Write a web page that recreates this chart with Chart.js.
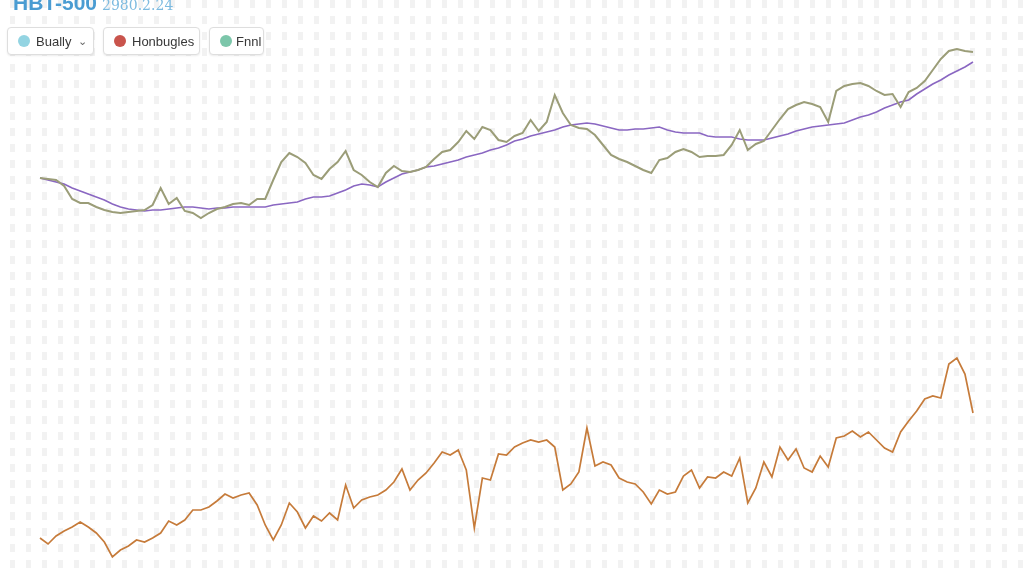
<!DOCTYPE html>
<html>
<head>
<meta charset="utf-8">
<script src="https://cdn.jsdelivr.net/npm/chart.js@4.4.1/dist/chart.umd.min.js"></script>
<style>
    html, body { margin: 0; padding: 0; background: #fff; }
    #wrap { position: relative; width: 1024px; height: 576px; overflow: hidden; }
    #levelsChart { position: absolute; left: 0; top: 0; }
    .title { position: absolute; left: 13px; top: -9px; white-space: nowrap; }
    .title b { font-family: "Liberation Sans", Arial, sans-serif; font-size: 21px; font-weight: bold; color: #4a9cd2; }
    .title span { font-family: "DejaVu Serif", serif; font-size: 14px; color: #7dbbe0; margin-left: 5px; }
    .legend { position: absolute; left: 7px; top: 27px; display: flex; gap: 9px; }
    .btn { box-sizing: border-box; display: flex; align-items: center; height: 28px; padding-left: 10px; border: 1px solid #dedede; border-radius: 4px;
           background: #fff; box-shadow: 0 1px 2px rgba(0,0,0,0.08); font-family: "Liberation Sans", Arial, sans-serif; font-size: 13px; color: #383838; }
    .dot { width: 12px; height: 12px; border-radius: 50%; margin-right: 6px; }
    .chev { margin-left: 7px; color: #666; font-size: 11px; }
</style>
</head>
<body>
<div id="wrap">
    <canvas id="levelsChart" width="1024" height="576"></canvas>
    <div class="title"><b>HBT-500</b><span>2980.2.24</span></div>
    <div class="legend">
        <div class="btn" style="width:87px"><div class="dot" style="background:#93d4e2"></div>Bually<span class="chev">&#8964;</span></div>
        <div class="btn" style="width:97px"><div class="dot" style="background:#c9544c"></div>Honbugles</div>
        <div class="btn" style="width:55px"><div class="dot" style="background:#7cc6aa; margin-right:4px"></div>Fnnl</div>
    </div>
</div>
<script>
// levels, one value per trading day
const bually = [
    398, 397, 396, 390, 377, 373, 373, 369, 366, 364,
    363, 364, 365, 366, 371, 388, 372, 378, 365, 363,
    358, 363, 367, 369, 372, 373, 371, 377, 377, 396,
    414, 423, 419, 413, 401, 397, 407, 414, 425, 406,
    401, 394, 389, 403, 410, 405, 404, 406, 409, 417,
    424, 426, 434, 445, 437, 449, 446, 436, 434, 440,
    443, 456, 445, 454, 481, 463, 451, 448, 447, 441,
    431, 421, 417, 414, 410, 406, 403, 416, 418, 424,
    427, 424, 419, 420, 420, 421, 431, 446, 426, 432,
    435, 446, 457, 467, 471, 474, 472, 469, 454, 485,
    490, 492, 493, 490, 485, 481, 482, 469, 484, 488,
    495, 506, 517, 525, 527, 525, 524
];
const fnnl = [
    398, 396, 394, 392, 388, 385, 382, 379, 376, 372,
    369, 367, 366, 365, 366, 366, 367, 368, 369, 369,
    368, 367, 368, 368, 369, 369, 369, 369, 369, 371,
    372, 373, 374, 377, 379, 379, 380, 383, 386, 390,
    392, 391, 389, 394, 398, 402, 404, 406, 409, 410,
    412, 414, 416, 419, 421, 423, 426, 428, 431, 435,
    437, 440, 442, 444, 446, 449, 451, 452, 453, 452,
    450, 448, 446, 446, 447, 447, 448, 449, 446, 444,
    443, 443, 443, 440, 439, 439, 439, 437, 436, 436,
    436, 438, 440, 442, 445, 447, 449, 450, 451, 452,
    453, 456, 459, 461, 464, 468, 471, 474, 476, 482,
    487, 492, 496, 501, 505, 509, 514
];
const honbugles = [
    38, 32, 40, 45, 49, 54, 49, 43, 34, 19,
    26, 30, 36, 34, 38, 43, 55, 51, 56, 66,
    66, 69, 75, 82, 78, 81, 83, 71, 51, 36,
    51, 73, 64, 48, 60, 55, 63, 56, 91, 68,
    76, 79, 81, 86, 94, 107, 86, 96, 103, 113,
    124, 121, 126, 106, 48, 98, 96, 122, 121, 129,
    133, 136, 134, 136, 129, 86, 92, 104, 148, 110,
    114, 111, 98, 94, 92, 84, 72, 86, 82, 84,
    100, 106, 88, 99, 98, 104, 100, 118, 73, 88,
    114, 99, 129, 116, 127, 108, 104, 120, 109, 138,
    140, 145, 139, 144, 136, 128, 124, 144, 155, 165,
    177, 180, 178, 212, 218, 202, 163
];

const toPoints = arr => arr.map((v, i) => ({ x: i, y: v }));

const ctx = document.getElementById('levelsChart');
const levelsChart = new Chart(ctx, {
    type: 'line',
    data: {
        datasets: [
            { label: 'Bually', data: toPoints(bually), borderColor: '#9b9d78', borderWidth: 2 },
            { label: 'Fnnl', data: toPoints(fnnl), borderColor: '#8a67c2', borderWidth: 1.6 },
            { label: 'Honbugles', data: toPoints(honbugles), borderColor: '#c67b3a', borderWidth: 1.7 }
        ]
    },
    options: {
        responsive: false,
        animation: false,
        layout: { padding: 0 },
        elements: { point: { radius: 0 }, line: { tension: 0 } },
        plugins: { legend: { display: false }, tooltip: { enabled: false } },
        scales: {
            x: { type: 'linear', display: false, min: -4.973, max: 122.341 },
            // faint dashed background grid, one line every 16px
            xg: {
                type: 'linear', min: 0, max: 1024,
                afterBuildTicks: axis => {
                    const t = [];
                    for (let p = 12; p < 1024; p += 16) t.push({ value: p });
                    axis.ticks = t;
                },
                ticks: { display: false },
                grid: { color: 'rgba(0,0,0,0.05)', lineWidth: 5, drawTicks: false },
                border: { display: false, dash: [8, 8] }
            },
            y: { display: false, min: 0, max: 576 }
        }
    }
});
</script>
</body>
</html>
